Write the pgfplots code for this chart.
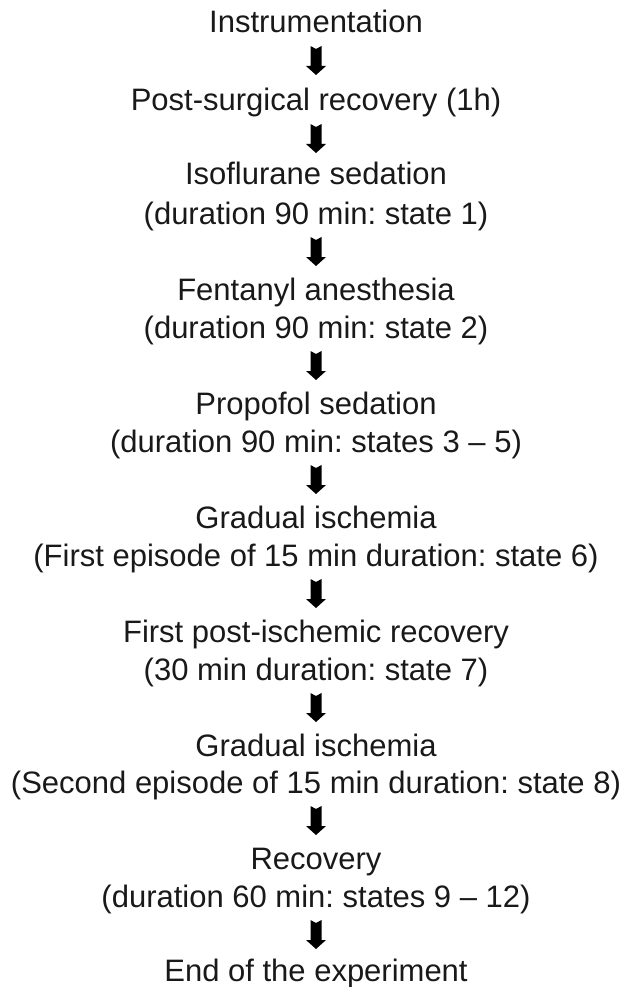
\documentclass[border=0pt]{standalone}
\usepackage{fontspec}
\setmainfont{Liberation Sans}
\usepackage{pgfplots}
\pgfplotsset{compat=1.18}
\frenchspacing
\begin{document}
\begin{tikzpicture}[flowtext/.style={overlay,inner sep=0pt,anchor=base,font=\fontsize{31}{36}\selectfont,text=black!90}]
\begin{axis}[
  width=633pt, height=987pt, scale only axis,
  xmin=0, xmax=633, ymin=0, ymax=987, y dir=reverse,
  axis lines=none, ticks=none, clip=false,
]
% invisible frame so the page spans the whole axis area
\addplot[draw=none, mark=none] coordinates {(0,0) (633,987)};
\node[flowtext] at (axis cs:316,33) {Instrumentation};
\node[flowtext] at (axis cs:316,111) {Post-surgical recovery (1h)};
\node[flowtext] at (axis cs:316,185) {Isoflurane sedation};
\node[flowtext] at (axis cs:316,224) {(duration 90 min: state 1)};
\node[flowtext] at (axis cs:316,300) {Fentanyl anesthesia};
\node[flowtext] at (axis cs:316,338) {(duration 90 min: state 2)};
\node[flowtext] at (axis cs:316,414) {Propofol sedation};
\node[flowtext] at (axis cs:316,452) {(duration 90 min: states 3 – 5)};
\node[flowtext] at (axis cs:316,528) {Gradual ischemia};
\node[flowtext] at (axis cs:316,566) {(First episode of 15 min duration: state 6)};
\node[flowtext] at (axis cs:316,642) {First post-ischemic recovery};
\node[flowtext] at (axis cs:316,680) {(30 min duration: state 7)};
\node[flowtext] at (axis cs:316,756) {Gradual ischemia};
\node[flowtext] at (axis cs:316,793) {(Second episode of 15 min duration: state 8)};
\node[flowtext] at (axis cs:316,869) {Recovery};
\node[flowtext] at (axis cs:316,907) {(duration 60 min: states 9 – 12)};
\node[flowtext] at (axis cs:316,981) {End of the experiment};
% block arrows
\addplot[fill=black, draw=none] coordinates {(310.5,46) (316,49) (321.5,46) (321.5,66) (326,66) (316,75) (306,66) (310.5,66)} -- cycle;
\addplot[fill=black, draw=none] coordinates {(310.5,124) (316,127) (321.5,124) (321.5,144) (326,144) (316,153) (306,144) (310.5,144)} -- cycle;
\addplot[fill=black, draw=none] coordinates {(310.5,237) (316,240) (321.5,237) (321.5,257) (326,257) (316,266) (306,257) (310.5,257)} -- cycle;
\addplot[fill=black, draw=none] coordinates {(310.5,351) (316,354) (321.5,351) (321.5,371) (326,371) (316,380) (306,371) (310.5,371)} -- cycle;
\addplot[fill=black, draw=none] coordinates {(310.5,465) (316,468) (321.5,465) (321.5,485) (326,485) (316,494) (306,485) (310.5,485)} -- cycle;
\addplot[fill=black, draw=none] coordinates {(310.5,579) (316,582) (321.5,579) (321.5,599) (326,599) (316,608) (306,599) (310.5,599)} -- cycle;
\addplot[fill=black, draw=none] coordinates {(310.5,693) (316,696) (321.5,693) (321.5,713) (326,713) (316,722) (306,713) (310.5,713)} -- cycle;
\addplot[fill=black, draw=none] coordinates {(310.5,806) (316,809) (321.5,806) (321.5,826) (326,826) (316,835) (306,826) (310.5,826)} -- cycle;
\addplot[fill=black, draw=none] coordinates {(310.5,920) (316,923) (321.5,920) (321.5,940) (326,940) (316,949) (306,940) (310.5,940)} -- cycle;
\end{axis}
\end{tikzpicture}
\end{document}
